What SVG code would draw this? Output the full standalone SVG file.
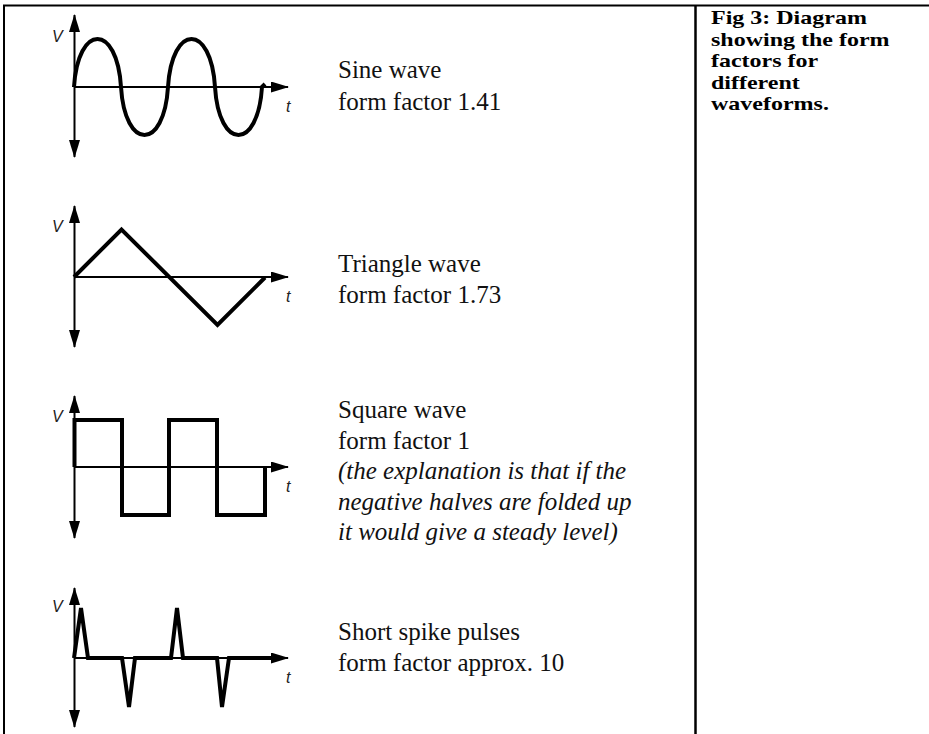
<svg xmlns="http://www.w3.org/2000/svg" width="929" height="734" viewBox="0 0 929 734">
  <style>
    .axis { stroke: #000; stroke-width: 2; fill: none; }
    .wave { stroke: #000; stroke-width: 4; fill: none; stroke-linejoin: miter; }
    .lbl { font-family: "Liberation Sans", Arial, sans-serif; font-style: italic; font-size: 16px; fill: #222; }
    .txt { font-family: "Liberation Serif", "Times New Roman", serif; font-size: 25px; fill: #111; }
    .it { font-style: italic; }
    .cap { font-family: "Liberation Serif", "Times New Roman", serif; font-size: 24px; font-weight: bold; fill: #000; }
    .border { stroke: #000; fill: none; }
  </style>
  <defs>
    <marker id="ah" viewBox="0 0 18 11" markerWidth="18" markerHeight="11" refX="17" refY="5.5" orient="auto-start-reverse" markerUnits="userSpaceOnUse">
      <path d="M0,0 L18,5.5 L0,11 Z" fill="#000"/>
    </marker>
  </defs>
  <rect width="929" height="734" fill="#fff"/>

  <g id="table">
    <line class="border" x1="3" y1="5.5" x2="929" y2="5.5" stroke-width="2"/>
    <line class="border" x1="4" y1="5" x2="4" y2="734" stroke-width="2"/>
    <line class="border" x1="695.5" y1="5" x2="695.5" y2="734" stroke-width="2.5"/>
  </g>

  <g id="sine">
    <line class="axis" x1="74.5" y1="157" x2="74.5" y2="15" marker-start="url(#ah)" marker-end="url(#ah)"/>
    <line class="axis" x1="74" y1="87" x2="288" y2="87" marker-end="url(#ah)"/>
    <path class="wave" d="M74,87 C78,23 117,23 121,87 C125,151 164,151 168,87 C172,23 211,23 215,87 C219,151 258,151 262,87 L265,84"/>
    <text class="lbl" x="52" y="42">V</text>
    <text class="lbl" x="286" y="112">t</text>
    <text class="txt" x="338" y="78">Sine wave</text>
    <text class="txt" x="338" y="110">form factor 1.41</text>
  </g>

  <g id="triangle">
    <line class="axis" x1="74.5" y1="347" x2="74.5" y2="206" marker-start="url(#ah)" marker-end="url(#ah)"/>
    <line class="axis" x1="74" y1="277" x2="288" y2="277" marker-end="url(#ah)"/>
    <path class="wave" d="M74,277 L121.5,229.5 L217.5,325 L265,277.5"/>
    <text class="lbl" x="52" y="232">V</text>
    <text class="lbl" x="286" y="302">t</text>
    <text class="txt" x="338" y="272">Triangle wave</text>
    <text class="txt" x="338" y="303">form factor 1.73</text>
  </g>

  <g id="square">
    <line class="axis" x1="74.5" y1="538" x2="74.5" y2="396" marker-start="url(#ah)" marker-end="url(#ah)"/>
    <line class="axis" x1="74" y1="467" x2="288" y2="467" marker-end="url(#ah)"/>
    <path class="wave" d="M74.5,467 V420 H122 V515 H169 V420 H217 V515 H265 V467" stroke-width="3.5"/>
    <text class="lbl" x="52" y="422">V</text>
    <text class="lbl" x="286" y="492">t</text>
    <text class="txt" x="338" y="418">Square wave</text>
    <text class="txt" x="338" y="449">form factor 1</text>
    <text class="txt it" x="338" y="479">(the explanation is that if the</text>
    <text class="txt it" x="338" y="510">negative halves are folded up</text>
    <text class="txt it" x="338" y="540">it would give a steady level)</text>
  </g>

  <g id="spike">
    <line class="axis" x1="74.5" y1="727" x2="74.5" y2="588" marker-start="url(#ah)" marker-end="url(#ah)"/>
    <line class="axis" x1="74" y1="658" x2="288" y2="658" marker-end="url(#ah)"/>
    <path class="wave" d="M74,658 L81,608 L88,658 H122 L129,707 L135,658 H171 L177,608 L183,658 H217 L222,707 L229,658 H272"/>
    <text class="lbl" x="52" y="612">V</text>
    <text class="lbl" x="286" y="683">t</text>
    <text class="txt" x="338" y="640">Short spike pulses</text>
    <text class="txt" x="338" y="671">form factor approx. 10</text>
  </g>

  <g id="caption">
    <text class="cap" transform="translate(711,24) scale(1,0.8)">Fig 3: Diagram</text>
    <text class="cap" transform="translate(711,45.5) scale(1,0.8)">showing the form</text>
    <text class="cap" transform="translate(711,67) scale(1,0.8)">factors for</text>
    <text class="cap" transform="translate(711,88.5) scale(1,0.8)">different</text>
    <text class="cap" transform="translate(711,110) scale(1,0.8)">waveforms.</text>
  </g>
</svg>
